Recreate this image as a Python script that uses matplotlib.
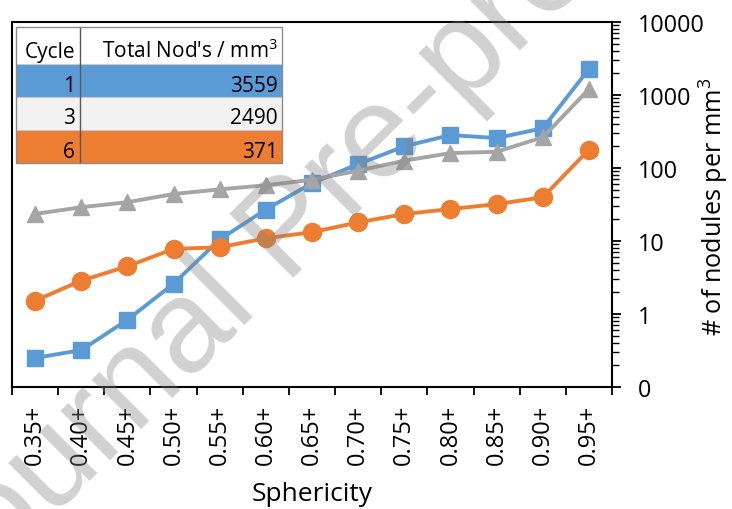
import matplotlib
matplotlib.use('Agg')
import matplotlib.pyplot as plt
from matplotlib.patches import Rectangle
from matplotlib.lines import Line2D
from matplotlib.ticker import FixedLocator, LogLocator, NullFormatter, FixedFormatter

plt.rcParams['font.family'] = ['Open Sans', 'DejaVu Sans']
plt.rcParams['mathtext.fontset'] = 'custom'
plt.rcParams['mathtext.rm'] = 'Open Sans'
plt.rcParams['mathtext.it'] = 'Open Sans:italic'

# ---------------- data ----------------
categories = ['0.35+', '0.40+', '0.45+', '0.50+', '0.55+', '0.60+', '0.65+',
              '0.70+', '0.75+', '0.80+', '0.85+', '0.90+', '0.95+']
cycle1 = [0.25, 0.32, 0.83, 2.6, 10.5, 27, 62, 113, 198, 283, 257, 350, 2270]
cycle3 = [23.5, 29, 34, 44, 51, 58, 69, 92, 126, 160, 167, 263, 1205]
cycle6 = [1.52, 2.86, 4.5, 7.8, 8.2, 10.9, 13.2, 18, 23.4, 27.4, 32, 39.7, 178]

y_ticks = [0.1, 1, 10, 100, 1000, 10000]
y_tick_labels = ['0', '1', '10', '100', '1000', '10000']

table_cycles = ['1', '3', '6']
table_totals = ['3559', '2490', '371']

BLUE = '#5B9BD5'
GRAY = '#A5A5A5'
ORANGE = '#ED7D31'

W, H = 732, 510
fig = plt.figure(figsize=(W / 100, H / 100), dpi=100)


def fx(x):
    return x / W


def fy(y):
    return 1 - y / H


ax = fig.add_axes([fx(12), fy(388), fx(612) - fx(12), fy(23) - fy(388)])
x = list(range(len(categories)))

ax.plot(x, cycle1, color=BLUE, lw=2.8, marker='s', ms=12, zorder=3)
ax.plot(x, cycle3, color=GRAY, lw=2.8, marker='^', ms=12, zorder=4)
ax.plot(x, cycle6, color=ORANGE, lw=2.8, marker='o', ms=13, zorder=5)

ax.set_yscale('log')
ax.set_ylim(0.1, 10000)
ax.set_xlim(-0.5, len(categories) - 0.5)

ax.yaxis.tick_right()
ax.yaxis.set_major_locator(FixedLocator(y_ticks))
ax.yaxis.set_major_formatter(FixedFormatter(y_tick_labels))
ax.yaxis.set_minor_locator(LogLocator(base=10, subs=range(2, 10), numticks=20))
ax.yaxis.set_minor_formatter(NullFormatter())
ax.tick_params(axis='y', which='major', direction='out', length=6.5, width=1.3,
               labelsize=16.8, pad=12, right=True, left=False)
ax.tick_params(axis='y', which='minor', direction='out', length=5, width=1.0,
               right=True, left=False)

ax.set_xticks(x)
ax.set_xticklabels(categories, rotation=90, fontsize=17)
ax.set_xticks([i - 0.5 for i in range(len(categories) + 1)], minor=True)
ax.tick_params(axis='x', which='major', length=0, pad=12)
ax.tick_params(axis='x', which='minor', direction='out', length=6, width=1.3)

for s in ax.spines.values():
    s.set_linewidth(1.5)
    s.set_color('black')

fig.text(fx(312), fy(495), 'Sphericity', ha='center', va='center', fontsize=19)
fig.text(fx(714), fy(207), '# of nodules per mm$^3$', rotation=90,
         ha='center', va='center', fontsize=18.2)

# ---------------- inset table ----------------
tx0, tx1, tcol = 15.5, 282, 80
row_edges = [28, 65, 98, 131, 164]
row_colors = ['white', BLUE, '#F2F2F2', ORANGE]
for i, c in enumerate(row_colors):
    y0, y1 = row_edges[i], row_edges[i + 1]
    fig.add_artist(Rectangle((fx(tx0), fy(y1)), fx(tx1) - fx(tx0), fy(y0) - fy(y1),
                             transform=fig.transFigure, facecolor=c,
                             edgecolor='none', zorder=5))
for yy in row_edges[1:-1]:
    fig.add_artist(Line2D([fx(tx0), fx(tx1)], [fy(yy), fy(yy)],
                          transform=fig.transFigure, color='#C8C8C8', lw=0.8, zorder=6))
fig.add_artist(Line2D([fx(tcol), fx(tcol)], [fy(row_edges[0]), fy(row_edges[-1])],
                      transform=fig.transFigure, color='#595959', lw=1.0, zorder=6))
fig.add_artist(Rectangle((fx(tx0), fy(row_edges[-1])), fx(tx1) - fx(tx0),
                         fy(row_edges[0]) - fy(row_edges[-1]),
                         transform=fig.transFigure, facecolor='none',
                         edgecolor='#8C8C8C', lw=1.0, zorder=6))

fig.text(fx(75), fy(58), 'Cycle', ha='right', va='baseline', fontsize=15, zorder=7)
fig.text(fx(278), fy(58), "Total Nod's / mm$^3$", ha='right', va='baseline',
         fontsize=15, zorder=7)
baselines = [91.5, 124.5, 157.5]
for cyc, tot, b in zip(table_cycles, table_totals, baselines):
    fig.text(fx(75), fy(b), cyc, ha='right', va='baseline', fontsize=15, zorder=7)
    fig.text(fx(278), fy(b), tot, ha='right', va='baseline', fontsize=15, zorder=7)

# ---------------- watermark ----------------
fig.text(fx(-46), fy(617), 'Journal Pre-proof', rotation=45, rotation_mode='anchor',
         ha='left', va='baseline', fontsize=95, family='Liberation Sans',
         color='#808080', alpha=0.36, zorder=10)

fig.savefig('out.png', dpi=100)
